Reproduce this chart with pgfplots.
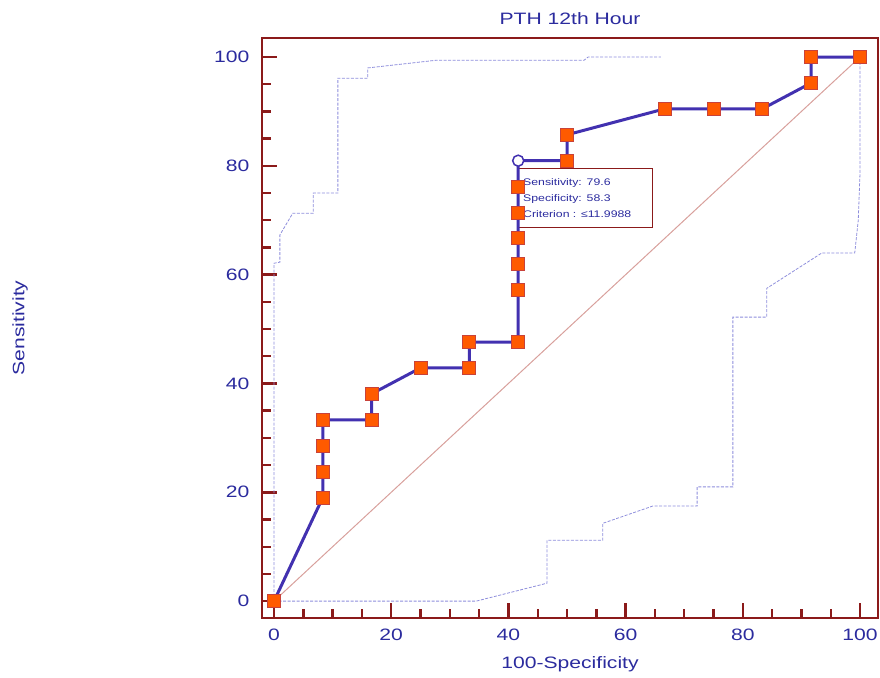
\documentclass[border=0pt]{standalone}
\usepackage{fontspec}
\setmainfont{Liberation Sans}[FakeStretch=1.28]
\usepackage{pgfplots}
\pgfplotsset{compat=1.18}
\definecolor{axred}{HTML}{8B1A1A}
\definecolor{tickblue}{HTML}{2B2B9E}
\definecolor{roc}{HTML}{4231B0}
\definecolor{mk}{HTML}{FF5A00}
\definecolor{mkedge}{HTML}{C8423A}
\definecolor{diag}{HTML}{D8A09C}
\definecolor{band}{HTML}{8E8EDC}
\begin{document}
\begin{tikzpicture}
\begin{axis}[
  scale only axis, width=616pt, height=580pt,
  xmin=-2.05, xmax=103.07, ymin=-3.1, ymax=103.5,
  axis line style={axred, line width=2.6pt},
  xtick={0,20,...,100}, ytick={0,20,...,100},
  minor tick num=3,
  tick align=inside, tick pos=left,
  major tick length=15pt, minor tick length=9pt,
  every tick/.style={axred, line width=2.4pt},
  /pgf/number format/assume math mode=true,
  ticklabel style={font=\fontsize{16.5}{20}\selectfont, text=tickblue},
  yticklabel style={xshift=-9pt},
  xticklabel style={yshift=-7pt},
  title={PTH 12th Hour},
  title style={font=\fontsize{16.5}{20}\selectfont, text=tickblue, at={(axis description cs:0.5,1)}, anchor=center, yshift=13pt},
  xlabel={100-Specificity},
  xlabel style={font=\fontsize{16.5}{20}\selectfont, text=tickblue, at={(axis description cs:0.5,0)}, anchor=center, yshift=-46pt},
  ylabel={Sensitivity},
  ylabel style={font=\fontsize{16.5}{20}\selectfont, text=tickblue, at={(axis description cs:0,0.5)}, anchor=center, yshift=242pt},
  clip marker paths=false,
]
% upper confidence band
\addplot[band, line width=0.8pt, dash pattern=on 3pt off 1.5pt] coordinates {
 (0,0) (0,62.1) (1.0,62.3) (1.0,67.3) (3.2,71.3) (6.7,71.3) (6.7,75.0) (10.9,75.0)
 (10.9,96.1) (16.0,96.1) (16.0,98.0) (27.6,99.4) (52.9,99.4) (53.6,100) (66,100)};
% lower confidence band
\addplot[band, line width=0.8pt, dash pattern=on 3pt off 1.5pt] coordinates {
 (0,0) (34.5,0) (46.6,3.3) (46.6,11.2) (56.1,11.2) (56.1,14.3) (64.7,17.5) (72.2,17.5)
 (72.2,21.0) (78.3,21.0) (78.3,52.2) (84.1,52.2) (84.1,57.5) (93.5,64.0) (99.1,64.0)
 (99.7,70.0) (100,78.7) (100,100)};
% diagonal
\addplot[diag, line width=1pt] coordinates {(0,0) (100,100)};
% tooltip
\node[draw=axred, line width=0.8pt, anchor=north west, align=left, text width=124pt,
      inner xsep=5pt, inner ysep=10pt, text=tickblue, font=\fontsize{9.6}{16}\selectfont]
  at (axis cs:41.6,79.6) {Sensitivity: 79.6\\Specificity: 58.3\\Criterion : ≤11.9988};
% ROC line
\addplot[roc, line width=3pt, no marks] coordinates {
 (0,0) (8.33,19.05) (8.33,23.81) (8.33,28.57) (8.33,33.33) (16.67,33.33) (16.67,38.10)
 (25,42.86) (33.33,42.86) (33.33,47.62) (41.67,47.62) (41.67,57.14) (41.67,61.90)
 (41.67,66.67) (41.67,71.43) (41.67,76.19) (41.67,80.95) (50,80.95) (50,85.71)
 (66.67,90.48) (75,90.48) (83.33,90.48) (91.67,95.24) (91.67,100) (100,100)};
% ROC markers
\addplot[only marks, mark=square*, mark size=6.5pt, mark options={fill=mk, draw=mkedge, line width=0.8pt}] coordinates {
 (0,0) (8.33,19.05) (8.33,23.81) (8.33,28.57) (8.33,33.33) (16.67,33.33) (16.67,38.10)
 (25,42.86) (33.33,42.86) (33.33,47.62) (41.67,47.62) (41.67,57.14) (41.67,61.90)
 (41.67,66.67) (41.67,71.43) (41.67,76.19) (50,80.95) (50,85.71)
 (66.67,90.48) (75,90.48) (83.33,90.48) (91.67,95.24) (91.67,100) (100,100)};
% selected criterion point
\addplot[only marks, mark=*, mark size=5.5pt, mark options={fill=white, draw=roc, line width=1.5pt}] coordinates {(41.67,80.95)};
\end{axis}
\pgfresetboundingbox
\path ([xshift=-262pt,yshift=-59pt]current axis.south west) rectangle ([xshift=2pt,yshift=38pt]current axis.north east);
\end{tikzpicture}
\end{document}
